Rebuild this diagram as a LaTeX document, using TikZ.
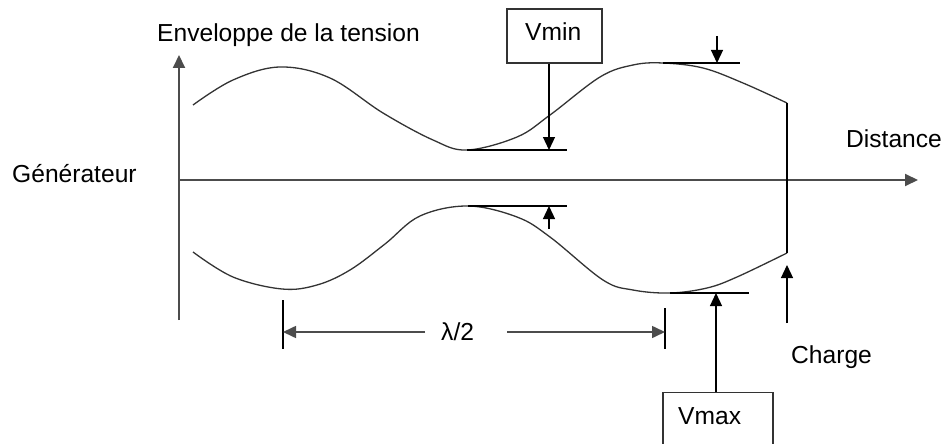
\documentclass[tikz,border=0pt]{standalone}
\usepackage{fontspec}
\setmainfont{Liberation Sans}
\usetikzlibrary{arrows.meta}
\begin{document}
\begin{tikzpicture}[x=1pt,y=-1pt,
  lbl/.style={font=\fontsize{24.6}{28}\selectfont,inner sep=0pt,anchor=base west},
  axis/.style={draw=black!70,line width=2pt},
  thin/.style={draw=black,line width=1.2pt},
  curve/.style={draw=black!80,line width=1.3pt},
  arr/.style={-{Triangle[length=13pt,width=12pt]}},
  boxn/.style={draw=black!80,line width=1.3pt,inner sep=0pt}]
\useasboundingbox (0,0) rectangle (943,444);
\clip (0,0) rectangle (943,444);
% axes
\coordinate (vaxb) at (179,320);
\coordinate (vaxt) at (179,55);
\coordinate (haxl) at (179,180);
\coordinate (haxr) at (918,180);
\draw[axis,arr] (vaxb) -- (vaxt);
\draw[axis,arr] (haxl) -- (haxr);
% upper envelope
\draw[curve] plot[smooth,tension=0.6] coordinates {(193,105) (233,80) (280,67) (330,78) (383,113) (433,140) (467,150) (517,137) (550,115) (600,77) (633,65) (663,63) (703,68) (743,83) (787,103)};
% lower envelope
\draw[curve] plot[smooth,tension=0.6] coordinates {(193,252) (233,277) (282,289) (317,285) (350,270) (385,244) (420,216) (468,206) (517,217) (550,237) (603,280) (633,290) (670,293) (707,288) (737,277) (787,253)};
% load vertical
\coordinate (lt) at (787,103);
\coordinate (lb) at (787,253);
\draw[thin] (lt) -- (lb);
% reference lines
\coordinate (m1a) at (467,150); \coordinate (m1b) at (567,150);
\coordinate (m2a) at (468,206); \coordinate (m2b) at (567,206);
\coordinate (m3a) at (663,63);  \coordinate (m3b) at (740,63);
\coordinate (m4a) at (670,293); \coordinate (m4b) at (749,293);
\draw[thin] (m1a) -- (m1b);
\draw[thin] (m2a) -- (m2b);
\draw[thin] (m3a) -- (m3b);
\draw[thin] (m4a) -- (m4b);
% Vmin box and arrow
\node[boxn,minimum width=95pt,minimum height=54pt] (vminbox) at (554.5,36) {};
\node[lbl] (vmin) at (525,41) {Vmin};
\coordinate (vminend) at (549,150);
\draw[thin,arr] (vminbox.south -| vminend) -- (vminend);
% small arrows
\coordinate (s1a) at (549,229); \coordinate (s1b) at (549,206);
\draw[thin,arr] (s1a) -- (s1b);
\coordinate (s2a) at (717,36); \coordinate (s2b) at (717,63);
\draw[thin,arr] (s2a) -- (s2b);
% Vmax box and arrow
\node[boxn,minimum width=110pt,minimum height=90pt,anchor=north] (vmaxbox) at (718,392) {};
\node[lbl] (vmax) at (678,424) {Vmax};
\coordinate (vmaxend) at (716,293);
\draw[thin,arr] (vmaxbox.north -| vmaxend) -- (vmaxend);
% charge arrow
\coordinate (cha) at (787,323); \coordinate (chb) at (787,265);
\draw[thin,arr] (cha) -- (chb);
% lambda/2 dimension
\coordinate (t1a) at (283,300); \coordinate (t1b) at (283,349);
\coordinate (t2a) at (665,308); \coordinate (t2b) at (665,349);
\draw[thin] (t1a) -- (t1b);
\draw[thin] (t2a) -- (t2b);
\node[lbl] (lam) at (441,340) {λ/2};
\coordinate (d1) at (425,332); \coordinate (d2) at (507,332);
\draw[axis,line width=1.6pt,arr] (d1) -- (t1a |- d1);
\draw[axis,line width=1.6pt,arr] (d2) -- (t2a |- d2);
% labels
\node[lbl] (env) at (157,42) {Enveloppe de la tension};
\node[lbl] (gen) at (12,182) {Générateur};
\node[lbl] (dist) at (846,147) {Distance};
\node[lbl] (charge) at (791,363) {Charge};
\end{tikzpicture}
\end{document}
